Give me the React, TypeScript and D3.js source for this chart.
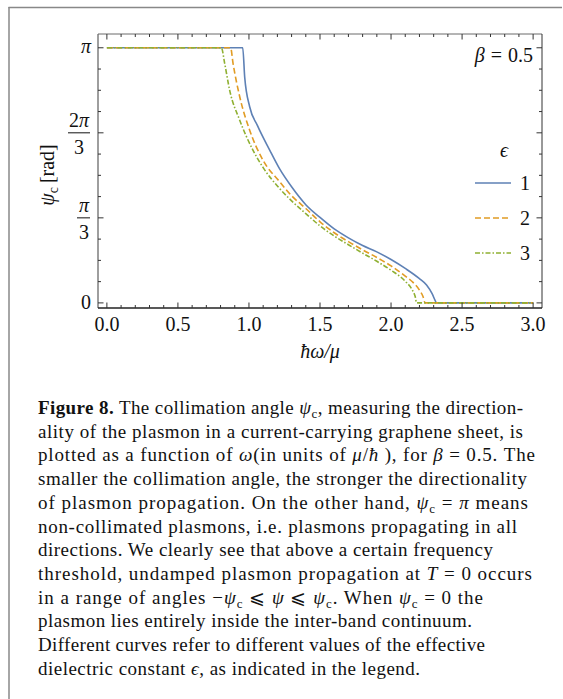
import React from "react";
import * as d3 from "d3";

// ---- data (psi_c in units of pi, omega in units of mu/hbar) ----
const omega1 = [0, 0.956, 0.97, 1.005, 1.06, 1.145, 1.216, 1.3, 1.4, 1.5, 1.6, 1.7, 1.8, 1.9, 2.0, 2.1, 2.2, 2.25, 2.29, 2.31, 2.32, 3.0];
const psi1 = [1, 1, 0.885, 0.769, 0.695, 0.6, 0.525, 0.455, 0.385, 0.335, 0.29, 0.255, 0.225, 0.2, 0.17, 0.135, 0.095, 0.07, 0.035, 0.01, 0, 0];

const omega2 = [0, 0.871, 0.888, 0.935, 1.005, 1.098, 1.216, 1.3, 1.4, 1.5, 1.6, 1.7, 1.8, 1.9, 2.0, 2.1, 2.15, 2.2, 2.225, 2.24, 3.0];
const psi2 = [1, 1, 0.939, 0.808, 0.677, 0.56, 0.475, 0.42, 0.37, 0.318, 0.275, 0.24, 0.208, 0.178, 0.145, 0.105, 0.083, 0.05, 0.025, 0, 0];

const omega3 = [0, 0.806, 0.829, 0.864, 0.935, 1.028, 1.1, 1.216, 1.3, 1.4, 1.5, 1.6, 1.7, 1.8, 1.9, 2.0, 2.1, 2.15, 2.17, 2.18, 3.0];
const psi3 = [1, 1, 0.939, 0.834, 0.716, 0.599, 0.53, 0.448, 0.4, 0.35, 0.302, 0.262, 0.228, 0.195, 0.163, 0.128, 0.085, 0.05, 0.025, 0, 0];

const epsLabels = ["1", "2", "3"];
const xTicks = [0, 0.5, 1.0, 1.5, 2.0, 2.5, 3.0];
const xTickLabels = ["0.0", "0.5", "1.0", "1.5", "2.0", "2.5", "3.0"];
const yTicks = [0, 1 / 3, 2 / 3, 1];

const seriesStyle = [
  { color: "#5E81B5", dash: "" },
  { color: "#E19C24", dash: "6,3" },
  { color: "#8FB032", dash: "5,2,1.5,2" },
];

type Seg = { t: string; s?: "b" | "i" | "sub" | "m" };
const caption: Seg[][] = [
  [{ t: "Figure 8.", s: "b" }, { t: " The collimation angle " }, { t: "ψ", s: "i" }, { t: "c", s: "sub" }, { t: ", measuring the direction-" }],
  [{ t: "ality of the plasmon in a current-carrying graphene sheet, is" }],
  [{ t: "plotted as a function of " }, { t: "ω", s: "i" }, { t: "(in units of " }, { t: "μ", s: "i" }, { t: "/" }, { t: "ħ", s: "i" }, { t: " ), for " }, { t: "β", s: "i" }, { t: " = 0.5. The" }],
  [{ t: "smaller the collimation angle, the stronger the directionality" }],
  [{ t: "of plasmon propagation. On the other hand, " }, { t: "ψ", s: "i" }, { t: "c", s: "sub" }, { t: " = " }, { t: "π", s: "i" }, { t: " means" }],
  [{ t: "non-collimated plasmons, i.e.  plasmons propagating in all" }],
  [{ t: "directions. We clearly see that above a certain frequency" }],
  [{ t: "threshold, undamped plasmon propagation at " }, { t: "T", s: "i" }, { t: " = 0 occurs" }],
  [{ t: "in a range of angles −" }, { t: "ψ", s: "i" }, { t: "c", s: "sub" }, { t: " ⩽ " }, { t: "ψ", s: "i" }, { t: " ⩽ " }, { t: "ψ", s: "i" }, { t: "c", s: "sub" }, { t: ". When " }, { t: "ψ", s: "i" }, { t: "c", s: "sub" }, { t: " = 0 the" }],
  [{ t: "plasmon lies entirely inside the inter-band continuum." }],
  [{ t: "Different curves refer to different values of the effective" }],
  [{ t: "dielectric constant " }, { t: "ϵ", s: "i" }, { t: ", as indicated in the legend." }],
];
const captionEnds = [523, 523, 535, 527, 528, 517, 493, 532, 483, 472, 485, 420];

const W = 563;
const H = 699;
const serif = "'Liberation Serif', 'DejaVu Serif', serif";

export default function App() {
  const x = d3.scaleLinear().domain([-0.0625, 3.0625]).range([98, 542]);
  const y = d3.scaleLinear().domain([-0.02, 1.054]).range([308, 34]);
  const [x0, x1] = x.range();
  const [yb, yt] = y.range();

  const line = d3
    .line<[number, number]>()
    .x((d) => x(d[0]))
    .y((d) => y(d[1]))
    .curve(d3.curveMonotoneX);

  const series = [
    d3.zip(omega1, psi1) as [number, number][],
    d3.zip(omega2, psi2) as [number, number][],
    d3.zip(omega3, psi3) as [number, number][],
  ];

  const xMinor = d3.range(0, 31).map((i) => i / 10);
  const yMinor = d3.range(0, 13).map((i) => i / 12);

  const axisGray = "#6a6a6a";
  const tickMajor = 5.5;
  const tickMinor = 3;

  const captionX = 38;
  const captionY0 = 414;
  const captionDy = 23.7;

  return (
    <div style={{ position: "absolute", left: 0, top: 0 }}>
      <svg width={W} height={H} style={{ display: "block", background: "#fff" }}>
        {/* page frame */}
        <line x1={8.5} y1={7.5} x2={562} y2={7.5} stroke="#888" strokeWidth={1.5} />
        <line x1={9} y1={7} x2={9} y2={H} stroke="#888" strokeWidth={1.5} />

        {/* curves */}
        <g fill="none">
          {series.map((s, i) => (
            <path
              key={i}
              d={line(s) || ""}
              stroke={seriesStyle[i].color}
              strokeWidth={1.6}
              strokeDasharray={seriesStyle[i].dash}
            />
          ))}
        </g>

        {/* frame */}
        <line x1={x0} y1={yt} x2={x1} y2={yt} stroke={axisGray} strokeWidth={1} />
        <line x1={x1} y1={yt} x2={x1} y2={yb} stroke="#333" strokeWidth={1} />
        <line x1={x0} y1={yt} x2={x0} y2={yb} stroke={axisGray} strokeWidth={1.3} />
        <line x1={x0} y1={yb} x2={x1} y2={yb} stroke="#222" strokeWidth={1.3} />

        {/* x ticks (bottom and top) */}
        {xMinor.map((v, i) => {
          const len = i % 5 === 0 ? tickMajor : tickMinor;
          return (
            <g key={"xt" + i} stroke="#333" strokeWidth={1}>
              <line x1={x(v)} x2={x(v)} y1={yb} y2={yb - len} />
              <line x1={x(v)} x2={x(v)} y1={yt} y2={yt + len} />
            </g>
          );
        })}
        {/* y ticks (left and right) */}
        {yMinor.map((v, i) => {
          const len = i % 4 === 0 ? tickMajor : tickMinor;
          return (
            <g key={"yt" + i} stroke="#333" strokeWidth={1}>
              <line x1={x0} x2={x0 + len} y1={y(v)} y2={y(v)} />
              <line x1={x1} x2={x1 - len} y1={y(v)} y2={y(v)} />
            </g>
          );
        })}

        {/* x tick labels */}
        <g fontFamily={serif} fontSize={20} textAnchor="middle" fill="#111">
          {xTicks.map((v, i) => (
            <text key={"xl" + i} x={x(v)} y={331}>
              {xTickLabels[i]}
            </text>
          ))}
        </g>

        {/* y tick labels */}
        <g fontFamily={serif} fontSize={20} fill="#111">
          <text x={x0 - 7} y={y(yTicks[0]) + 6} textAnchor="end">0</text>
          {/* pi/3 */}
          <text x={x0 - 14} y={y(yTicks[1]) - 6} textAnchor="middle" fontStyle="italic">π</text>
          <line x1={x0 - 21} x2={x0 - 8} y1={y(yTicks[1])} y2={y(yTicks[1])} stroke="#111" strokeWidth={1} />
          <text x={x0 - 14} y={y(yTicks[1]) + 21} textAnchor="middle">3</text>
          {/* 2pi/3 */}
          <text x={x0 - 19} y={y(yTicks[2]) - 6} textAnchor="middle">
            2<tspan fontStyle="italic">π</tspan>
          </text>
          <line x1={x0 - 30} x2={x0 - 8} y1={y(yTicks[2])} y2={y(yTicks[2])} stroke="#111" strokeWidth={1} />
          <text x={x0 - 19} y={y(yTicks[2]) + 21} textAnchor="middle">3</text>
          {/* pi */}
          <text x={x0 - 7} y={y(yTicks[3]) + 5} textAnchor="end" fontStyle="italic">π</text>
        </g>

        {/* axis labels */}
        <text x={320} y={358} fontFamily={serif} fontSize={20} textAnchor="middle" fontStyle="italic" fill="#111">
          ħω/μ
        </text>
        <text
          transform={`translate(54,${(yt + yb) / 2 + 4}) rotate(-90)`}
          fontFamily={serif}
          fontSize={20}
          textAnchor="middle"
          fill="#111"
        >
          <tspan fontStyle="italic">ψ</tspan>
          <tspan fontSize={14} dy={4}>c</tspan>
          <tspan dy={-4} dx={4}>[rad]</tspan>
        </text>

        {/* beta annotation */}
        <text x={533} y={62} fontFamily={serif} fontSize={20} textAnchor="end" fill="#111">
          <tspan fontStyle="italic">β</tspan>
          <tspan dx={6}>=</tspan>
          <tspan dx={6}>0.5</tspan>
        </text>

        {/* legend */}
        <text x={504} y={157} fontFamily={serif} fontSize={20} textAnchor="middle" fontStyle="italic" fill="#111">
          ϵ
        </text>
        {epsLabels.map((lab, i) => {
          const ly = 183 + i * 35;
          return (
            <g key={"lg" + i}>
              <line
                x1={475}
                x2={511}
                y1={ly}
                y2={ly}
                stroke={seriesStyle[i].color}
                strokeWidth={1.6}
                strokeDasharray={seriesStyle[i].dash}
              />
              <text x={525} y={ly + 7} fontFamily={serif} fontSize={20} textAnchor="middle" fill="#111">
                {lab}
              </text>
            </g>
          );
        })}

        {/* caption */}
        <g fontFamily={serif} fontSize={19} fill="#111">
          {caption.map((segs, li) => {
            let pendingUp = false;
            return (
              <text
                key={"cap" + li}
                x={captionX}
                y={captionY0 + li * captionDy}
                textLength={captionEnds[li] - captionX}
                lengthAdjust="spacing"
              >
                {segs.map((sg, si) => {
                  let dy: number | undefined = undefined;
                  if (sg.s === "sub") {
                    dy = 4;
                  } else if (pendingUp) {
                    dy = -4;
                  }
                  pendingUp = sg.s === "sub";
                  return (
                    <tspan
                      key={si}
                      dy={dy}
                      fontWeight={sg.s === "b" ? "bold" : undefined}
                      fontStyle={sg.s === "i" ? "italic" : undefined}
                      fontSize={sg.s === "sub" ? 13 : undefined}
                    >
                      {sg.t}
                    </tspan>
                  );
                })}
              </text>
            );
          })}
        </g>
      </svg>
    </div>
  );
}
